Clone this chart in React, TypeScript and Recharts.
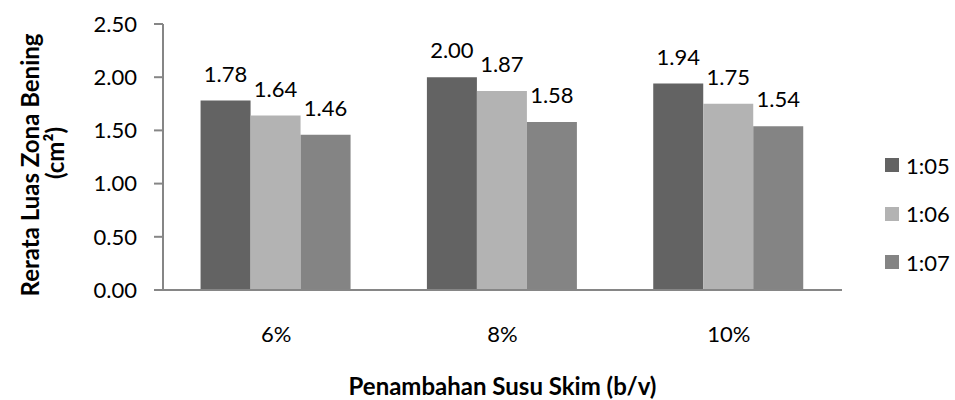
import React from 'react';
import { BarChart, Bar, XAxis, YAxis, LabelList } from 'recharts';

const categories = ['6%', '8%', '10%'];
const ratio105 = [1.78, 2.0, 1.94];
const ratio106 = [1.64, 1.87, 1.75];
const ratio107 = [1.46, 1.58, 1.54];
const yTicks = [0, 0.5, 1, 1.5, 2, 2.5];

const seriesNames = ['1:05', '1:06', '1:07'];
const seriesKeys = ['r105', 'r106', 'r107'];
const seriesColors = ['#636363', '#b3b3b3', '#848484'];

const data = categories.map((c, i) => ({
  name: c,
  r105: ratio105[i],
  r106: ratio106[i],
  r107: ratio107[i],
}));

const FONT = 'Lato, "Open Sans", sans-serif';
const AXIS = '#868686';

// two-line rotated y title, like the Excel one
const YTitle = () => (
  <g fontFamily={FONT} fontWeight={700} fontSize={24} fill="#000">
    <text x={39} y={165} transform="rotate(-90, 39, 165)" textAnchor="middle">
      Rerata Luas Zona Bening
    </text>
    <text x={64} y={153} transform="rotate(-90, 64, 153)" textAnchor="middle">
      (cm²)
    </text>
  </g>
);

const LegendBox = () => (
  <div style={{ position: 'absolute', left: 885, top: 141, fontFamily: FONT, fontSize: 22, color: '#000' }}>
    {seriesNames.map((n, i) => (
      <div key={n} style={{ display: 'flex', alignItems: 'center', height: 48.5 }}>
        <span style={{ width: 14, height: 14, background: seriesColors[i], marginRight: 7, display: 'inline-block' }} />
        {n}
      </div>
    ))}
  </div>
);

const App: React.FC = () => {
  return (
    <div style={{ position: 'absolute', left: 0, top: 0, width: 955, height: 400, background: '#fff' }}>
      <BarChart
        width={955}
        height={400}
        data={data}
        margin={{ top: 24, right: 113, left: 0, bottom: 80 }}
        barGap={0}
        barCategoryGap="16.6%"
      >
        <XAxis
          dataKey="name"
          axisLine={{ stroke: AXIS, strokeWidth: 2 }}
          tickLine={false}
          tick={{ fill: '#000', fontSize: 22, fontFamily: FONT, dy: 28 }}
          label={{
            value: 'Penambahan Susu Skim (b/v)',
            position: 'insideBottom',
            offset: -75,
            fill: '#000',
            fontSize: 24,
            fontWeight: 700,
            fontFamily: FONT,
          }}
        />
        <YAxis
          width={163}
          domain={[0, 2.5]}
          ticks={yTicks}
          interval={0}
          axisLine={{ stroke: AXIS, strokeWidth: 2 }}
          tickLine={{ stroke: AXIS, strokeWidth: 2 }}
          tickSize={9}
          tickMargin={17}
          tick={{ fill: '#000', fontSize: 22, fontFamily: FONT }}
          tickFormatter={(v: number) => v.toFixed(2)}
          label={{ content: () => <YTitle /> }}
        />
        {seriesKeys.map((k, i) => (
          <Bar key={k} dataKey={k} name={seriesNames[i]} fill={seriesColors[i]} isAnimationActive={false}>
            <LabelList
              dataKey={k}
              position="top"
              offset={19}
              fill="#000"
              fontSize={22}
              fontFamily={FONT}
              formatter={(v: number) => v.toFixed(2)}
            />
          </Bar>
        ))}
      </BarChart>
      <LegendBox />
    </div>
  );
};

export default App;
